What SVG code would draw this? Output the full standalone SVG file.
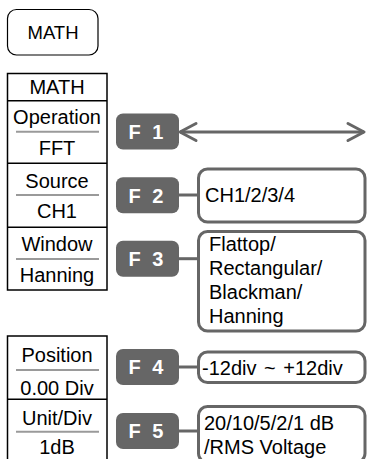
<svg xmlns="http://www.w3.org/2000/svg" width="367" height="459" viewBox="0 0 367 459">
<style>
.t{font-family:"Liberation Sans",Arial,sans-serif;font-size:20px;fill:#000}
.c{text-anchor:middle}
.menu{fill:#fff;stroke:#000;stroke-width:1.5}
.sep{stroke:#9a9a9a;stroke-width:2}
.fb{fill:#666}
.ft{font-family:"Liberation Sans",Arial,sans-serif;font-size:20px;font-weight:bold;fill:#fff;text-anchor:middle;word-spacing:6px}
.box{fill:#fff;stroke:#666;stroke-width:3}
.con{stroke:#666;stroke-width:3;fill:none}
</style>
<defs>
<marker id="chev" markerUnits="userSpaceOnUse" viewBox="-20 -12 24 24" markerWidth="24" markerHeight="24" refX="0" refY="0" orient="auto-start-reverse">
<path d="M-16,-8.5 L0,0 L-16,8.5" fill="none" stroke="#666" stroke-width="3" stroke-linecap="round" stroke-linejoin="round"/>
</marker>
</defs>
<rect width="367" height="459" fill="#fff"/>
<g id="math-button">
<rect x="7.5" y="9.5" width="90.5" height="45.5" rx="9" fill="#fff" stroke="#000" stroke-width="1.2"/>
<text class="t c" x="53" y="38.5" style="font-size:18.5px">MATH</text>
</g>
<g id="menu-top">
<rect class="menu" x="7.5" y="73.5" width="99.5" height="216.5"/>
<line x1="7.5" y1="100.7" x2="107" y2="100.7" stroke="#000" stroke-width="1.5"/>
<line x1="7.5" y1="163.3" x2="107" y2="163.3" stroke="#000" stroke-width="1.5"/>
<line x1="7.5" y1="227.3" x2="107" y2="227.3" stroke="#000" stroke-width="1.5"/>
<text class="t c" x="57" y="94.3">MATH</text>
<text class="t c" x="57" y="124.3">Operation</text>
<line class="sep" x1="16" y1="131.7" x2="99" y2="131.7"/>
<text class="t c" x="57" y="155">FFT</text>
<text class="t c" x="57" y="188.3">Source</text>
<line class="sep" x1="16" y1="195" x2="99" y2="195"/>
<text class="t c" x="57" y="218">CH1</text>
<text class="t c" x="57" y="251">Window</text>
<line class="sep" x1="16" y1="259" x2="99" y2="259"/>
<text class="t c" x="57" y="281.7">Hanning</text>
</g>
<g id="menu-bottom">
<rect class="menu" x="7.5" y="336" width="99.5" height="130"/>
<line x1="7.5" y1="399.3" x2="107" y2="399.3" stroke="#000" stroke-width="1.5"/>
<text class="t c" x="57" y="361.7">Position</text>
<line class="sep" x1="16" y1="370" x2="99" y2="370"/>
<text class="t c" x="57" y="395">0.00 Div</text>
<text class="t c" x="57" y="425">Unit/Div</text>
<line class="sep" x1="16" y1="431.7" x2="99" y2="431.7"/>
<text class="t c" x="57" y="454">1dB</text>
</g>
<g id="connectors">
<line class="con" x1="180" y1="132" x2="364" y2="132" marker-start="url(#chev)" marker-end="url(#chev)"/>
<line class="con" x1="178" y1="195" x2="199" y2="195"/>
<line class="con" x1="178" y1="258.7" x2="199" y2="258.7"/>
<line class="con" x1="178" y1="367" x2="199" y2="367"/>
<line class="con" x1="178" y1="431" x2="199" y2="431"/>
</g>
<g id="f1">
<rect class="fb" x="116" y="113.5" width="63" height="36" rx="7"/>
<text class="ft" x="146" y="139.3">F 1</text>
</g>
<g id="f2">
<rect class="fb" x="116" y="177.3" width="63" height="36" rx="7"/>
<text class="ft" x="146" y="202.6">F 2</text>
</g>
<g id="f3">
<rect class="fb" x="116" y="240.7" width="63" height="36" rx="7"/>
<text class="ft" x="146" y="266">F 3</text>
</g>
<g id="f4">
<rect class="fb" x="116" y="349" width="63" height="36" rx="7"/>
<text class="ft" x="146" y="374.3">F 4</text>
</g>
<g id="f5">
<rect class="fb" x="116" y="413" width="63" height="36" rx="7"/>
<text class="ft" x="146" y="438.3">F 5</text>
</g>
<g id="source-options">
<rect class="box" x="198.5" y="169" width="166.5" height="53" rx="9"/>
<text class="t" x="205" y="202">CH1/2/3/4</text>
</g>
<g id="window-options">
<rect class="box" x="198.5" y="231.5" width="166.5" height="99.5" rx="9"/>
<text class="t" x="209" y="251">Flattop/</text>
<text class="t" x="209" y="275">Rectangular/</text>
<text class="t" x="209" y="299">Blackman/</text>
<text class="t" x="209" y="323">Hanning</text>
</g>
<g id="position-range">
<rect class="box" x="198.5" y="352" width="166.5" height="30.5" rx="9"/>
<text class="t" x="202" y="375" style="word-spacing:2px">-12div ~ +12div</text>
</g>
<g id="unit-options">
<rect class="box" x="198.5" y="406.5" width="166.5" height="56" rx="9"/>
<text class="t" x="204" y="430">20/10/5/2/1 dB</text>
<text class="t" x="204" y="454">/RMS Voltage</text>
</g>
</svg>
